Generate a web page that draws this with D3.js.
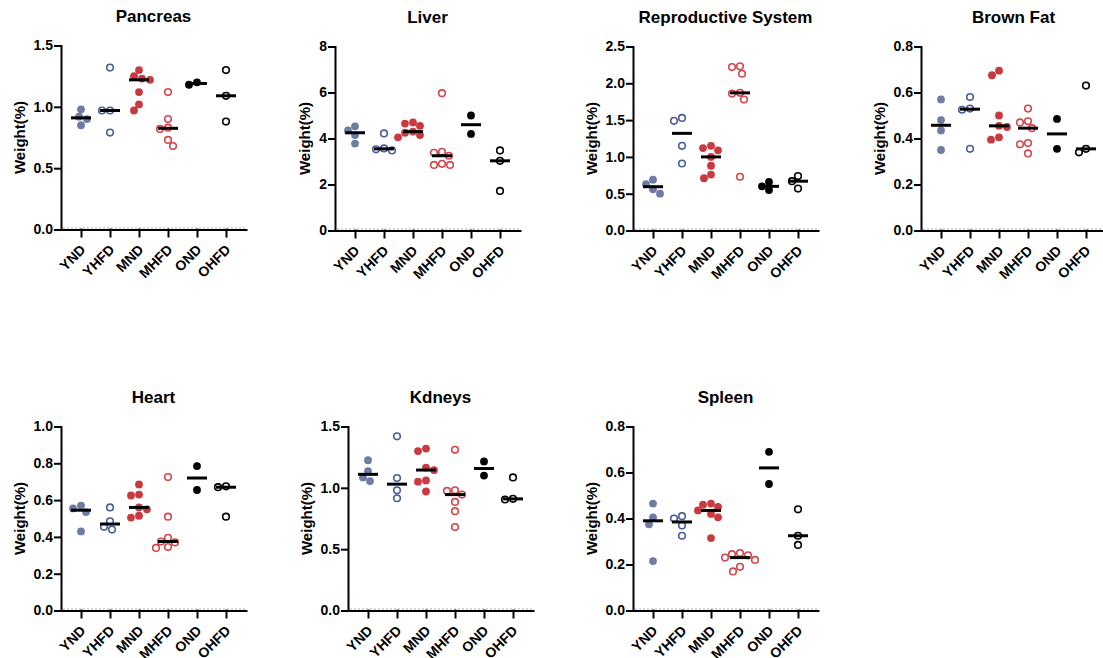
<!DOCTYPE html>
<html>
<head>
<meta charset="utf-8">
<script src="https://cdn.jsdelivr.net/npm/d3@7"></script>
<style>
  body { margin: 0; background: #fff; }
  svg text { font-family: "Liberation Sans", Arial, sans-serif; font-weight: bold; fill: #000; }
</style>
</head>
<body>
<div id="chart"></div>
<script>
// groups and organs
const groups = ["YND", "YHFD", "MND", "MHFD", "OND", "OHFD"];
const organs = ["Pancreas", "Liver", "Reproductive System", "Brown Fat", "Heart", "Kdneys", "Spleen"];
const yMaxes = [1.5, 8, 2.5, 0.8, 1.0, 1.5, 0.8];
const yTickSteps = [0.5, 2, 0.5, 0.2, 0.2, 0.5, 0.2];
const yTickFormats = [".1f", "d", ".1f", ".1f", ".1f", ".1f", ".1f"];

// organ weight (% of body weight), one array per group
const pancreas = [
    [0.98, 0.92, 0.90, 0.85],
    [1.32, 0.97, 0.97, 0.79],
    [1.30, 1.25, 1.23, 1.22, 1.12, 1.02, 0.97],
    [1.12, 0.90, 0.83, 0.82, 0.73, 0.68],
    [1.20, 1.18],
    [1.30, 1.09, 0.88]
];
const liver = [
    [4.53, 4.35, 4.15, 3.78],
    [4.22, 3.57, 3.53, 3.48],
    [4.70, 4.65, 4.55, 4.30, 4.25, 4.15, 4.05],
    [5.97, 3.42, 3.38, 3.25, 2.90, 2.85, 2.85],
    [5.00, 4.20],
    [3.48, 3.03, 1.72]
];
const reproductive = [
    [0.69, 0.63, 0.56, 0.50],
    [1.53, 1.49, 1.15, 0.91],
    [1.15, 1.12, 1.09, 1.00, 0.88, 0.76, 0.71],
    [2.23, 2.22, 2.13, 1.87, 1.86, 1.78, 0.73],
    [0.66, 0.60, 0.55],
    [0.74, 0.67, 0.57]
];
const brownFat = [
    [0.57, 0.48, 0.435, 0.35],
    [0.58, 0.53, 0.525, 0.355],
    [0.695, 0.675, 0.50, 0.455, 0.45, 0.405, 0.395],
    [0.53, 0.475, 0.47, 0.445, 0.38, 0.375, 0.335],
    [0.485, 0.355],
    [0.63, 0.355, 0.34]
];
const heart = [
    [0.57, 0.555, 0.535, 0.43],
    [0.56, 0.485, 0.455, 0.44],
    [0.685, 0.63, 0.625, 0.56, 0.55, 0.515, 0.505],
    [0.725, 0.51, 0.395, 0.375, 0.37, 0.345, 0.34],
    [0.785, 0.655],
    [0.675, 0.67, 0.51]
];
const kidneys = [
    [1.225, 1.135, 1.085, 1.055],
    [1.42, 1.08, 0.98, 0.915],
    [1.32, 1.30, 1.165, 1.145, 1.06, 1.05, 0.97],
    [1.31, 0.98, 0.975, 0.945, 0.885, 0.81, 0.68],
    [1.215, 1.10],
    [1.085, 0.91, 0.905]
];
const spleen = [
    [0.465, 0.405, 0.375, 0.215],
    [0.41, 0.40, 0.37, 0.325],
    [0.465, 0.46, 0.45, 0.435, 0.42, 0.405, 0.315],
    [0.25, 0.245, 0.24, 0.23, 0.22, 0.19, 0.17],
    [0.69, 0.55],
    [0.44, 0.325, 0.285]
];
const organData = [pancreas, liver, reproductive, brownFat, heart, kidneys, spleen];

// styling per group
const groupColors = ["#6e7ca3", "#4b5d99", "#c83a3f", "#d4474c", "#000000", "#000000"];
const groupFilled = [true, false, true, false, true, false];

// panel placement (y axis x-position, plot top/bottom)
const panels = [
    {x: 61,  top: 45.5,  bottom: 229.5},
    {x: 335, top: 46.5,  bottom: 230.5},
    {x: 633, top: 46.5,  bottom: 230.5},
    {x: 921, top: 46.5,  bottom: 230.5},
    {x: 61,  top: 426.5, bottom: 610.5},
    {x: 348, top: 426.5, bottom: 610.5},
    {x: 633, top: 426.5, bottom: 610.5}
];
const plotWidth = 185;

const svg = d3.select("#chart").append("svg")
    .attr("width", 1103)
    .attr("height", 658)
    .style("background", "#fff");

// simple beeswarm: spread points with close values sideways
function swarm(values, y, minDist, step) {
    const order = d3.range(values.length).sort((a, b) => values[b] - values[a]);
    const placed = [];
    const offsets = new Array(values.length);
    let side = -1;
    order.forEach(i => {
        const py = y(values[i]);
        let dx = 0;
        for (let k = 0; k < 60; k++) {
            const cands = k === 0 ? [0] : [side * k * step, -side * k * step];
            const ok = cands.find(c => placed.every(p => Math.hypot(p.x - c, p.y - py) >= minDist));
            if (ok !== undefined) { dx = ok; break; }
        }
        if (dx !== 0) side = dx > 0 ? -1 : 1;
        placed.push({x: dx, y: py});
        offsets[i] = dx;
    });
    return offsets;
}

organs.forEach((name, i) => {
    const P = panels[i];
    const x = d3.scalePoint()
        .domain(groups)
        .range([P.x, P.x + plotWidth])
        .padding(0.69);
    const y = d3.scaleLinear()
        .domain([0, yMaxes[i]])
        .range([P.bottom, P.top]);

    const g = svg.append("g").attr("class", "panel");

    // title
    g.append("text")
        .attr("x", P.x + plotWidth / 2)
        .attr("y", P.top - 24)
        .attr("text-anchor", "middle")
        .style("font-size", "17px")
        .text(name);

    // y axis
    const yAxis = g.append("g")
        .attr("transform", `translate(${P.x},0)`)
        .call(d3.axisLeft(y)
            .tickValues(d3.range(0, yMaxes[i] + 1e-9, yTickSteps[i]))
            .tickFormat(d3.format(yTickFormats[i]))
            .tickSize(6)
            .tickSizeOuter(0)
            .tickPadding(2));
    yAxis.selectAll("text").style("font-size", "14px").attr("fill", "#000");

    // x axis
    const xAxis = g.append("g")
        .attr("transform", `translate(0,${P.bottom})`)
        .call(d3.axisBottom(x).tickSize(7).tickSizeOuter(0));
    xAxis.selectAll("text")
        .style("font-size", "14px")
        .attr("fill", "#000")
        .attr("text-anchor", "end")
        .attr("x", 0).attr("y", 0).attr("dy", 0)
        .attr("transform", "translate(5,21) rotate(-45)");

    g.selectAll(".domain, .tick line")
        .attr("stroke", "#000")
        .attr("stroke-width", 2)
        .attr("stroke-linecap", "square");

    // faint dashed fringe along the x axis
    g.append("line")
        .attr("x1", P.x + 2).attr("x2", P.x + plotWidth)
        .attr("y1", P.bottom - 1.5).attr("y2", P.bottom - 1.5)
        .attr("stroke", "#777")
        .attr("stroke-width", 1)
        .attr("stroke-dasharray", "2,2")
        .attr("opacity", 0.6);

    // y label
    const bb = yAxis.node().getBBox();
    const lx = P.x + bb.x - 14;
    const ly = (P.top + P.bottom) / 2;
    g.append("text")
        .attr("transform", `translate(${lx},${ly}) rotate(-90)`)
        .attr("text-anchor", "middle")
        .attr("dy", "0.35em")
        .style("font-size", "15px")
        .text("Weight(%)");

    // points
    organData[i].forEach((vals, gi) => {
        const offs = swarm(vals, y, 7.6, 1);
        const cx = x(groups[gi]);
        const filled = groupFilled[gi];
        g.append("g").selectAll("circle")
            .data(vals)
            .join("circle")
            .attr("cx", (d, k) => cx + offs[k])
            .attr("cy", d => y(d))
            .attr("r", filled ? 3.9 : 3.3)
            .attr("fill", filled ? groupColors[gi] : "#fff")
            .attr("stroke", filled ? "none" : groupColors[gi])
            .attr("stroke-width", filled ? 0 : 1.6);
    });

    // median lines
    g.append("g").selectAll("line")
        .data(organData[i])
        .join("line")
        .attr("x1", (d, gi) => x(groups[gi]) - 10)
        .attr("x2", (d, gi) => x(groups[gi]) + 10)
        .attr("y1", d => y(d3.median(d)))
        .attr("y2", d => y(d3.median(d)))
        .attr("stroke", "#000")
        .attr("stroke-width", 3);
});
</script>
</body>
</html>
